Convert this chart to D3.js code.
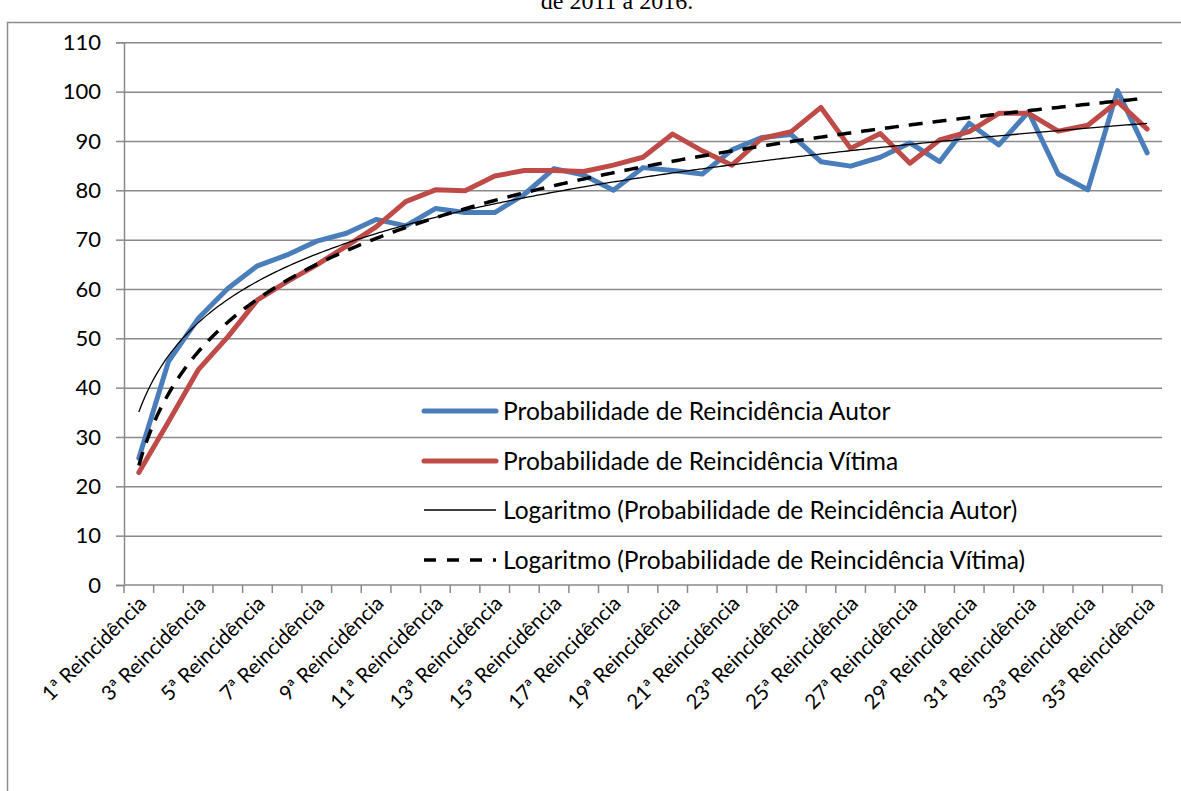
<!DOCTYPE html>
<html>
<head>
<meta charset="utf-8">
<script src="https://cdn.jsdelivr.net/npm/d3@7"></script>
<style>
  body { margin: 0; background: #fff; }
  text { font-family: Lato, "Liberation Sans", sans-serif; fill: #000; }
</style>
</head>
<body>
<div id="chart"></div>
<script>
// categories / values
const categories = d3.range(1, 36).map(n => n + "ª Reincidência");
const autor = [25.7, 45.3, 54.0, 60.1, 64.7, 66.9, 69.7, 71.3, 74.1, 72.8,
               76.3, 75.5, 75.5, 79.2, 84.4, 83.1, 80.0, 84.6, 84.0, 83.3,
               88.2, 90.7, 91.3, 85.8, 84.9, 86.7, 89.6, 85.8, 93.6, 89.2,
               95.9, 83.3, 80.1, 100.2, 87.6];
const vitima = [22.8, 33.1, 43.6, 50.3, 57.8, 61.5, 64.9, 68.7, 72.6, 77.7,
                80.1, 79.9, 82.9, 84.0, 84.0, 83.8, 85.1, 86.7, 91.4, 88.0,
                85.1, 90.5, 91.9, 96.8, 88.5, 91.5, 85.5, 90.2, 91.9, 95.6,
                95.6, 92.0, 93.2, 98.0, 92.4];
const yTicks = d3.range(0, 111, 10);
const legendNames = [
  "Probabilidade de Reincidência Autor",
  "Probabilidade de Reincidência Vítima",
  "Logaritmo (Probabilidade de Reincidência Autor)",
  "Logaritmo (Probabilidade de Reincidência Vítima)"
];

const width = 1181, height = 791;
const plot = { left: 124, right: 1162, top: 42.3, bottom: 585 };
const BLUE = "#4a7ebb", RED = "#be4b48", GRID = "#8a8a8a";

const svg = d3.select("#chart").append("svg")
    .attr("width", width)
    .attr("height", height);

// outer frame + clipped title from the page above
svg.append("rect")
    .attr("x", 7.5).attr("y", 22.5)
    .attr("width", 1300).attr("height", 900)
    .attr("fill", "none").attr("stroke", "#8c8c8c").attr("stroke-width", 1.5);
svg.append("text")
    .attr("x", 617).attr("y", 9)
    .attr("text-anchor", "middle")
    .style("font-family", "'Liberation Serif', serif")
    .style("font-size", "24px")
    .text("de 2011 a 2016.");

const x = d3.scaleBand().domain(categories).range([plot.left, plot.right]);
const cx = d => x(d) + x.bandwidth() / 2;
const y = d3.scaleLinear().domain([0, 110]).range([plot.bottom, plot.top]);
const xn = d3.scaleLinear().domain([1, categories.length])
    .range([cx(categories[0]), cx(categories[categories.length - 1])]);

// gridlines
svg.append("g")
    .attr("transform", "translate(" + plot.left + ",0)")
    .call(d3.axisLeft(y).tickValues(yTicks.slice(1)).tickSize(-(plot.right - plot.left)).tickFormat(""))
    .call(g => g.select(".domain").remove())
    .call(g => g.selectAll("line").attr("stroke", GRID).attr("stroke-width", 1.5));

// y axis
svg.append("g")
    .attr("transform", "translate(" + plot.left + ",0)")
    .call(d3.axisLeft(y).tickValues(yTicks).tickSize(8).tickPadding(15))
    .call(g => g.select(".domain").attr("stroke", GRID).attr("stroke-width", 1.5))
    .call(g => g.selectAll("line").attr("stroke", GRID).attr("stroke-width", 1.5))
    .call(g => g.selectAll("text").style("font-size", "22px").style("font-family", "Lato, sans-serif"));

// x axis: baseline + boundary ticks
const xa = svg.append("g");
xa.append("line")
    .attr("x1", plot.left).attr("x2", plot.right)
    .attr("y1", plot.bottom).attr("y2", plot.bottom)
    .attr("stroke", GRID).attr("stroke-width", 1.5);
xa.selectAll(".tk")
    .data(categories.map(c => x(c)).concat([plot.right]))
    .join("line")
    .attr("x1", d => d).attr("x2", d => d)
    .attr("y1", plot.bottom).attr("y2", plot.bottom + 8)
    .attr("stroke", GRID).attr("stroke-width", 1.5);
xa.selectAll(".lbl")
    .data(categories.filter((c, i) => i % 2 === 0))
    .join("text")
    .attr("transform", d => "translate(" + (cx(d) - 2) + "," + (plot.bottom + 9) + ") rotate(-45)")
    .attr("text-anchor", "end")
    .attr("dy", "0.75em")
    .style("font-size", "20.5px")
    .text(d => d);

// log trendlines (least squares on ln(n))
function logFit(vals) {
  const lx = vals.map((v, i) => Math.log(i + 1));
  const mx = d3.mean(lx), my = d3.mean(vals);
  const b = d3.sum(lx, (l, i) => (l - mx) * (vals[i] - my)) / d3.sum(lx, l => (l - mx) * (l - mx));
  return n => my - b * mx + b * Math.log(n);
}
const fa = logFit(autor), fv = logFit(vitima);
const tN = d3.range(1, categories.length + 0.001, 0.1);

const line = d3.line().x((d, i) => cx(categories[i])).y(d => y(d));
const tline = f => d3.line().x(n => xn(n)).y(n => y(f(n)));

svg.append("path").datum(autor)
    .attr("d", line).attr("fill", "none").attr("stroke", BLUE)
    .attr("stroke-width", 5).attr("stroke-linejoin", "round").attr("stroke-linecap", "round");
svg.append("path").datum(vitima)
    .attr("d", line).attr("fill", "none").attr("stroke", RED)
    .attr("stroke-width", 5).attr("stroke-linejoin", "round").attr("stroke-linecap", "round");
svg.append("path").datum(tN)
    .attr("d", tline(fa)).attr("fill", "none").attr("stroke", "#000").attr("stroke-width", 1.3);
svg.append("path").datum(tN)
    .attr("d", tline(fv)).attr("fill", "none").attr("stroke", "#000")
    .attr("stroke-width", 3.5).attr("stroke-dasharray", "14,10");

// legend
const legStyles = [
  { stroke: BLUE, w: 5, dash: null, cap: "round" },
  { stroke: RED, w: 5, dash: null, cap: "round" },
  { stroke: "#000", w: 1.3, dash: null, cap: "butt" },
  { stroke: "#000", w: 3.5, dash: "12,11", cap: "butt" }
];
const legY = [411, 461, 510, 560];
const leg = svg.append("g").selectAll("g").data(legendNames).join("g")
    .attr("transform", (d, i) => "translate(0," + legY[i] + ")");
leg.append("line")
    .attr("x1", 424).attr("x2", 496)
    .attr("stroke", (d, i) => legStyles[i].stroke)
    .attr("stroke-width", (d, i) => legStyles[i].w)
    .attr("stroke-dasharray", (d, i) => legStyles[i].dash)
    .attr("stroke-linecap", (d, i) => legStyles[i].cap);
leg.append("text")
    .attr("x", 503).attr("dy", "0.35em")
    .style("font-size", "24.5px")
    .text(d => d);
</script>
</body>
</html>
